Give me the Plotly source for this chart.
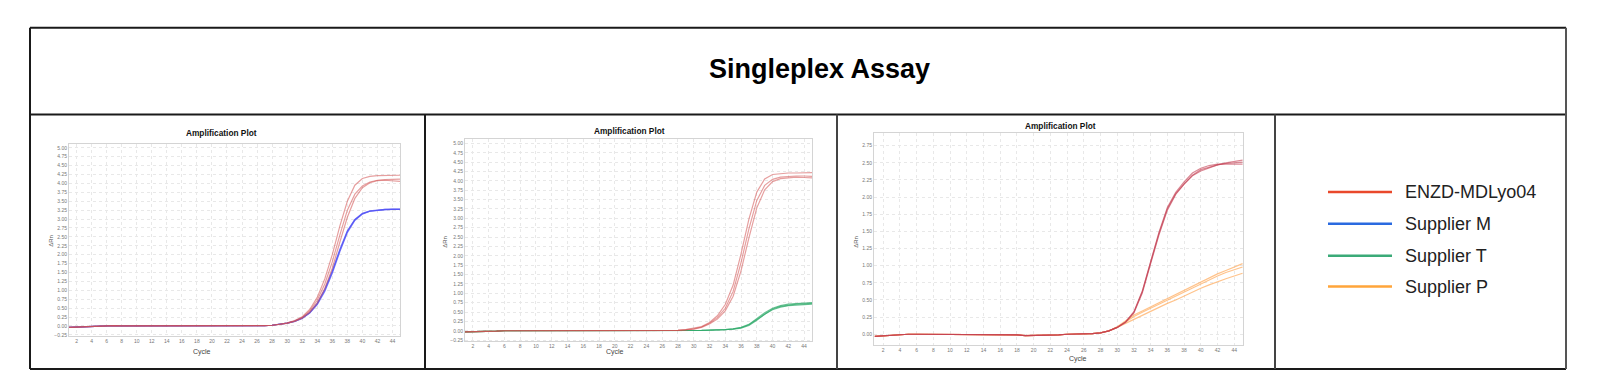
import plotly.graph_objects as go

W, H = 1600, 392
cycles = list(range(1, 46))

# ---------- Panel 1 : ENZD-MDLyo04 vs Supplier M ----------
p1_base = [-0.04, -0.03, -0.02, -0.01, 0.00, 0.00, 0.01, 0.00, 0.00, 0.01, 0.01, 0.01, 0.01, 0.00,
           0.00, 0.00, -0.01, -0.01, -0.01, -0.01, -0.01, -0.01, -0.01, -0.01, 0.00, 0.00, 0.01, 0.02]
p1_enzd_tails = [
    [0.04, 0.09, 0.15, 0.26, 0.46, 0.80, 1.32, 2.00, 2.80, 3.50, 3.95, 4.14, 4.20, 4.22, 4.22, 4.22, 4.23],
    [0.04, 0.08, 0.14, 0.24, 0.42, 0.72, 1.18, 1.80, 2.55, 3.25, 3.70, 3.93, 4.04, 4.09, 4.11, 4.12, 4.12],
    [0.04, 0.07, 0.13, 0.22, 0.38, 0.64, 1.05, 1.62, 2.35, 3.05, 3.58, 3.88, 4.02, 4.08, 4.09, 4.08, 4.06],
]
p1_supm_tails = [
    [0.04, 0.08, 0.13, 0.22, 0.37, 0.62, 1.00, 1.52, 2.12, 2.65, 2.98, 3.15, 3.22, 3.25, 3.27, 3.27, 3.27],
    [0.04, 0.08, 0.13, 0.21, 0.36, 0.60, 0.97, 1.48, 2.08, 2.62, 2.96, 3.14, 3.22, 3.25, 3.26, 3.27, 3.27],
    [0.04, 0.08, 0.14, 0.23, 0.38, 0.64, 1.03, 1.55, 2.15, 2.67, 2.99, 3.16, 3.23, 3.26, 3.27, 3.28, 3.28],
]

# ---------- Panel 2 : ENZD-MDLyo04 vs Supplier T ----------
p2_base = [-0.03, -0.03, -0.02, -0.01, -0.01, 0.00, 0.00, 0.00, -0.01, 0.00, 0.00, 0.01, 0.01, 0.00,
           0.00, 0.00, 0.00, 0.00, -0.01, -0.01, -0.01, -0.01, -0.01, -0.01, -0.01, 0.00, 0.00, 0.01]
p2_enzd_tails = [
    [0.03, 0.06, 0.11, 0.22, 0.40, 0.70, 1.22, 2.05, 2.98, 3.70, 4.05, 4.17, 4.20, 4.21, 4.21, 4.21, 4.22],
    [0.03, 0.05, 0.10, 0.20, 0.35, 0.60, 1.05, 1.82, 2.72, 3.48, 3.88, 4.04, 4.10, 4.12, 4.13, 4.13, 4.12],
    [0.02, 0.04, 0.09, 0.18, 0.31, 0.53, 0.92, 1.60, 2.48, 3.28, 3.76, 3.98, 4.06, 4.09, 4.10, 4.09, 4.08],
]
p2_supt_tails = [
    [0.01, 0.01, 0.01, 0.02, 0.02, 0.03, 0.05, 0.09, 0.17, 0.32, 0.48, 0.60, 0.67, 0.71, 0.73, 0.74, 0.75],
    [0.01, 0.01, 0.01, 0.02, 0.02, 0.03, 0.05, 0.08, 0.16, 0.30, 0.46, 0.58, 0.65, 0.69, 0.71, 0.72, 0.73],
    [0.01, 0.01, 0.01, 0.01, 0.02, 0.03, 0.04, 0.07, 0.14, 0.28, 0.44, 0.56, 0.63, 0.67, 0.69, 0.70, 0.71],
]

# ---------- Panel 3 : ENZD-MDLyo04 vs Supplier P ----------
p3_base = [-0.03, -0.02, -0.01, 0.00, 0.00, 0.00, 0.00, -0.01, -0.01, 0.00, 0.00, -0.01, 0.00, 0.00,
           -0.01, -0.01, -0.01, -0.01, -0.02, -0.02, -0.01, -0.01, -0.01, 0.00, 0.00, 0.00, 0.01]
p3_enzd_tails = [
    [0.02, 0.05, 0.10, 0.18, 0.32, 0.62, 1.05, 1.47, 1.83, 2.05, 2.19, 2.31, 2.38, 2.43, 2.47, 2.50, 2.52, 2.54],
    [0.02, 0.05, 0.10, 0.18, 0.33, 0.63, 1.06, 1.49, 1.85, 2.07, 2.22, 2.35, 2.42, 2.46, 2.48, 2.48, 2.48, 2.48],
    [0.02, 0.05, 0.10, 0.17, 0.31, 0.60, 1.03, 1.45, 1.81, 2.04, 2.19, 2.32, 2.40, 2.44, 2.47, 2.49, 2.50, 2.51],
]
p3_supp_tails = [
    [0.02, 0.05, 0.11, 0.19, 0.28, 0.34, 0.40, 0.46, 0.52, 0.58, 0.64, 0.71, 0.77, 0.83, 0.88, 0.93, 0.98, 1.03],
    [0.02, 0.05, 0.10, 0.18, 0.26, 0.32, 0.38, 0.44, 0.50, 0.56, 0.62, 0.68, 0.74, 0.80, 0.85, 0.90, 0.94, 0.98],
    [0.02, 0.05, 0.10, 0.16, 0.22, 0.28, 0.33, 0.39, 0.45, 0.50, 0.56, 0.62, 0.67, 0.72, 0.77, 0.81, 0.85, 0.89],
]

legend_names = ["ENZD-MDLyo04", "Supplier M", "Supplier T", "Supplier P"]
legend_colors = ["#E9482B", "#2A6AE0", "#3BAA78", "#FFA53A"]

main_title = "Singleplex Assay"
panel_title = "Amplification Plot"
x_title = "Cycle"
y_title = "ΔRn"
x_ticks = list(range(2, 45, 2))

# ---------- figure ----------
fig = go.Figure()

def add_group(base, tails, color, name, ax, width=1.2):
    for t in tails:
        fig.add_trace(go.Scatter(
            x=cycles, y=base + t, mode="lines", name=name, showlegend=False,
            line=dict(color=color, width=width), xaxis="x" + ax, yaxis="y" + ax,
            hoverinfo="skip"))

add_group(p1_base, p1_supm_tails, "rgba(80,80,245,0.7)", "Supplier M", "")
add_group(p1_base, p1_enzd_tails, "rgba(210,80,80,0.55)", "ENZD-MDLyo04", "")
add_group(p2_base, p2_supt_tails, "rgba(45,170,105,0.7)", "Supplier T", "2")
add_group(p2_base, p2_enzd_tails, "rgba(210,80,80,0.55)", "ENZD-MDLyo04", "2")
add_group(p3_base, p3_supp_tails, "rgba(255,170,90,0.7)", "Supplier P", "3")
add_group(p3_base, p3_enzd_tails, "rgba(195,60,80,0.6)", "ENZD-MDLyo04", "3")

def px(x):
    return x / W

def py(y):
    return 1 - y / H

panels = [
    dict(x0=69, x1=400, yt=145, yb=338, yr=[-0.29, 5.10], dt=0.25),
    dict(x0=465, x1=812, yt=140, yb=343, yr=[-0.28, 5.11], dt=0.25),
    dict(x0=874, x1=1243, yt=134, yb=347, yr=[-0.16, 2.93], dt=0.25),
]

axis_common = dict(showline=True, mirror=True, linecolor="#d4d4d4", linewidth=1,
                   showgrid=True, gridcolor="#e8e8e8", griddash="dot", gridwidth=1,
                   zeroline=False, ticks="", tickfont=dict(size=5, color="#777", family="Liberation Sans"))
for i, p in enumerate(panels):
    sfx = "" if i == 0 else str(i + 1)
    fig.update_layout(**{
        "xaxis" + sfx: dict(domain=[px(p["x0"]), px(p["x1"])], range=[1, 45] if i < 2 else [0.9, 45.05],
                            anchor="y" + sfx, tickvals=x_ticks, **axis_common),
        "yaxis" + sfx: dict(domain=[py(p["yb"]), py(p["yt"])], range=p["yr"], anchor="x" + sfx,
                            dtick=p["dt"], tick0=0, tickformat=".2f", **axis_common),
    })

annotations = [
    dict(text="<b>" + main_title + "</b>", x=px(820), y=py(69), xref="paper", yref="paper",
         showarrow=False, font=dict(size=27, color="#000", family="Liberation Sans"),
         xanchor="center", yanchor="middle"),
]
title_pos = [(221, 134), (629, 132), (1060, 127)]
cycle_pos = [(202, 354), (615, 354), (1078, 361)]
yt_pos = [(51, 242), (445, 243), (856, 243)]
for (tx, ty), (cx, cy), (yx, yy) in zip(title_pos, cycle_pos, yt_pos):
    annotations.append(dict(text="<b>" + panel_title + "</b>", x=px(tx), y=py(ty), xref="paper", yref="paper",
                            showarrow=False, font=dict(size=8.3, color="#111", family="Liberation Sans"),
                            xanchor="center", yanchor="middle"))
    annotations.append(dict(text=x_title, x=px(cx), y=py(cy), xref="paper", yref="paper",
                            showarrow=False, font=dict(size=7, color="#444", family="Liberation Sans"),
                            xanchor="center", yanchor="middle"))
    annotations.append(dict(text=y_title, x=px(yx), y=py(yy), xref="paper", yref="paper",
                            showarrow=False, textangle=-90, font=dict(size=6, color="#555", family="Liberation Sans"),
                            xanchor="center", yanchor="middle"))

shapes = []
leg_rows = [193, 225, 257, 288]
for name, col, ry in zip(legend_names, legend_colors, leg_rows):
    shapes.append(dict(type="line", xref="paper", yref="paper", x0=px(1328), x1=px(1392),
                       y0=py(ry), y1=py(ry), line=dict(color=col, width=2.5)))
    annotations.append(dict(text=name, x=px(1403), y=py(ry), xref="paper", yref="paper",
                            showarrow=False, font=dict(size=18, color="#222", family="Liberation Sans"),
                            xanchor="left", yanchor="middle"))

border = dict(color="#1a1a1a", width=2)
def hline(y, x0, x1, ln=border):
    shapes.append(dict(type="line", xref="paper", yref="paper", x0=px(x0), x1=px(x1), y0=py(y), y1=py(y), line=ln))
def vline(x, y0, y1, ln=border):
    shapes.append(dict(type="line", xref="paper", yref="paper", x0=px(x), x1=px(x), y0=py(y0), y1=py(y1), line=ln))

hline(28, 30, 1566)
hline(115, 30, 1566)
hline(371, 30, 1566)
vline(30, 28, 371)
vline(1566, 28, 371, dict(color="#555", width=2))
vline(425, 115, 371)
vline(837, 115, 371, dict(color="#444", width=2))
vline(1275, 115, 371, dict(color="#444", width=2))

fig.update_layout(width=W, height=H, margin=dict(l=0, r=0, t=0, b=0),
                  paper_bgcolor="white", plot_bgcolor="white", showlegend=False,
                  annotations=annotations, shapes=shapes,
                  font=dict(family="Liberation Sans"))

fig.write_html("out.html", config={"displayModeBar": False},
               post_script="document.body.style.margin='0';document.body.style.overflow='hidden';")
